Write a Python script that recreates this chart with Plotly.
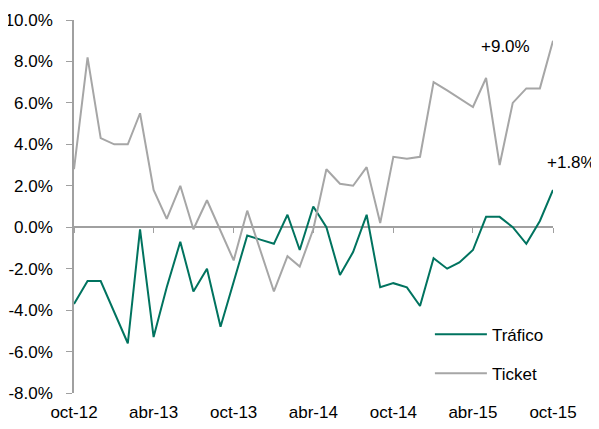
import plotly.graph_objects as go
import pandas as pd

months = pd.date_range("2012-10-01", "2015-10-01", freq="MS")

trafico = [-3.7, -2.6, -2.6, -4.1, -5.6, -0.1, -5.3, -2.9, -0.7, -3.1, -2.0, -4.8,
           -2.6, -0.4, -0.6, -0.8, 0.6, -1.1, 1.0, 0.0, -2.3, -1.2, 0.6, -2.9,
           -2.7, -2.9, -3.8, -1.5, -2.0, -1.7, -1.1, 0.5, 0.5, 0.0, -0.8, 0.3, 1.8]

ticket = [2.8, 8.2, 4.3, 4.0, 4.0, 5.5, 1.8, 0.4, 2.0, -0.1, 1.3, -0.2,
          -1.6, 0.8, -1.1, -3.1, -1.4, -1.9, -0.1, 2.8, 2.1, 2.0, 2.9, 0.2,
          3.4, 3.3, 3.4, 7.0, 6.6, 6.2, 5.8, 7.2, 3.0, 6.0, 6.7, 6.7, 9.0]

x_tick_dates = ["2012-10-01", "2013-04-01", "2013-10-01", "2014-04-01", "2014-10-01", "2015-04-01", "2015-10-01"]
x_tick_labels = ["oct-12", "abr-13", "oct-13", "abr-14", "oct-14", "abr-15", "oct-15"]
y_tick_vals = [10, 8, 6, 4, 2, 0, -2, -4, -6, -8]
y_tick_labels = ["10.0%", "8.0%", "6.0%", "4.0%", "2.0%", "0.0%", "-2.0%", "-4.0%", "-6.0%", "-8.0%"]

GREEN = "#00735F"
GRAY = "#A6A6A6"
AXIS = "#A0A0A0"
FONT = "Liberation Sans, Arial, sans-serif"

fig = go.Figure()
fig.add_trace(go.Scatter(x=months, y=trafico, mode="lines", name="Tráfico",
                         line=dict(color=GREEN, width=2), legendgroup="a"))
fig.add_trace(go.Scatter(x=months, y=ticket, mode="lines", name="Ticket",
                         line=dict(color=GRAY, width=2), legendgroup="b"))
# invisible trace on xaxis2 for tick marks on the zero line
fig.add_trace(go.Scatter(x=[months[0], months[-1]], y=[0, 0], mode="lines",
                         xaxis="x2", line=dict(width=0), showlegend=False, hoverinfo="skip"))

fig.add_annotation(x=months[-1], y=ticket[-1], text="+9.0%", showarrow=False,
                   xanchor="right", yanchor="middle", xshift=-21, yshift=-6,
                   font=dict(size=17, color="black", family=FONT))
fig.add_annotation(x=months[-1], y=trafico[-1], text="+1.8%", showarrow=False,
                   xanchor="center", yanchor="middle", xshift=18, yshift=27,
                   font=dict(size=17, color="black", family=FONT))

# page body has an 8px margin: figure spans x 8..599, y 8..429
fig.update_layout(
    width=591, height=421,
    margin=dict(l=66, r=46, t=12, b=36),
    paper_bgcolor="white", plot_bgcolor="white",
    font=dict(family=FONT, size=17, color="black"),
    showlegend=True,
    legend=dict(x=0.743, y=0.104, xanchor="left", yanchor="middle",
                bgcolor="rgba(0,0,0,0)", itemwidth=52, tracegroupgap=14,
                font=dict(size=17, family=FONT)),
    xaxis=dict(range=[months[0], months[-1]], tickvals=x_tick_dates, ticktext=x_tick_labels,
               showgrid=False, zeroline=False, showline=False, ticks="",
               ticklabelstandoff=7, tickfont=dict(size=17), automargin=False),
    xaxis2=dict(range=[months[0], months[-1]], tickvals=x_tick_dates, overlaying="x",
                anchor="free", position=166/373, side="bottom", showticklabels=False,
                ticks="outside", ticklen=5, tickcolor=AXIS, tickwidth=1,
                showgrid=False, zeroline=False, showline=False, automargin=False),
    yaxis=dict(range=[-8, 10], tickvals=y_tick_vals, ticktext=y_tick_labels,
               showgrid=False, zeroline=True, zerolinecolor=AXIS, zerolinewidth=1.5,
               showline=True, linecolor=AXIS, linewidth=1.5,
               ticks="outside", ticklen=6, tickcolor=AXIS,
               ticklabelstandoff=10, tickfont=dict(size=17), automargin=False),
)

fig.write_html("out.html")
